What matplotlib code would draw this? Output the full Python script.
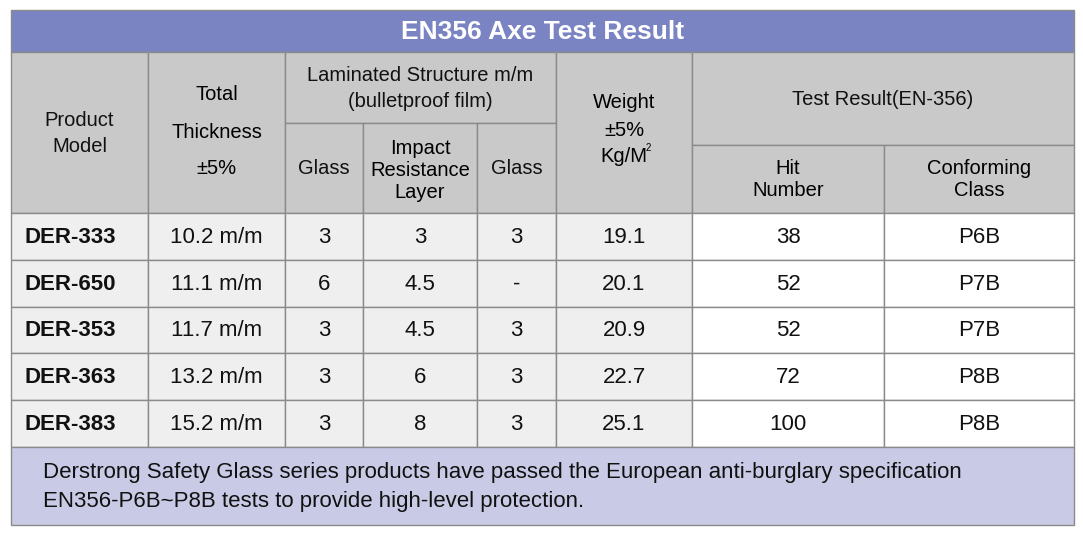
import matplotlib.pyplot as plt
from matplotlib.patches import Rectangle

plt.rcParams['font.family'] = ['Liberation Sans', 'DejaVu Sans']

title = 'EN356 Axe Test Result'
models = ['DER-333', 'DER-650', 'DER-353', 'DER-363', 'DER-383']
thickness = ['10.2 m/m', '11.1 m/m', '11.7 m/m', '13.2 m/m', '15.2 m/m']
glass1 = ['3', '6', '3', '3', '3']
impact = ['3', '4.5', '4.5', '6', '8']
glass2 = ['3', '-', '3', '3', '3']
weight = ['19.1', '20.1', '20.9', '22.7', '25.1']
hits = ['38', '52', '52', '72', '100']
classes = ['P6B', 'P7B', 'P7B', 'P8B', 'P8B']
note = ('Derstrong Safety Glass series products have passed the European anti-burglary specification\n'
        'EN356-P6B~P8B tests to provide high-level protection.')

W, H = 1083, 533
fig = plt.figure(figsize=(W / 100, H / 100), dpi=100)
ax = fig.add_axes([0, 0, 1, 1])
ax.set_xlim(0, W)
ax.set_ylim(H, 0)
ax.axis('off')

xs = [11, 148, 285, 363, 477, 556, 692, 884, 1074]
y_title, y_head, y_sub1, y_sub2, y_body = 10, 52, 123, 145, 213
rh = 46.8
y_foot = y_body + 5 * rh
y_end = 525
line = '#8a8a8a'
head_bg = '#c9c9c9'
fs = 16


def cell(x0, y0, x1, y1, fc, txt='', size=fs, weight='normal', color='#111111', ls=1.0):
    ax.add_patch(Rectangle((x0, y0), x1 - x0, y1 - y0, facecolor=fc, edgecolor=line, lw=ls))
    if txt:
        ax.text((x0 + x1) / 2, (y0 + y1) / 2 + 1, txt, ha='center', va='center',
                fontsize=size, fontweight=weight, color=color, linespacing=1.45)


# title band
cell(xs[0], y_title, xs[-1], y_head, '#7b84c3', title, size=19, weight='bold', color='white')

# header
hs = 14.5
cell(xs[0], y_head, xs[1], y_body, head_bg, 'Product\nModel', size=hs)
ax.add_patch(Rectangle((xs[1], y_head), xs[2] - xs[1], y_body - y_head, facecolor=head_bg, edgecolor=line, lw=1))
for t, yy in zip(['Total', 'Thickness', '±5%'], [94, 132, 169]):
    ax.text((xs[1] + xs[2]) / 2, yy, t, ha='center', va='center', fontsize=hs)
cell(xs[2], y_head, xs[5], y_sub1, head_bg, 'Laminated Structure m/m\n(bulletproof film)', size=hs)
cell(xs[2], y_sub1, xs[3], y_body, head_bg, 'Glass', size=hs)
ax.add_patch(Rectangle((xs[3], y_sub1), xs[4] - xs[3], y_body - y_sub1, facecolor=head_bg, edgecolor=line, lw=1))
ax.text((xs[3] + xs[4]) / 2, 170, 'Impact\nResistance\nLayer', ha='center', va='center',
        fontsize=hs, linespacing=1.2)
cell(xs[4], y_sub1, xs[5], y_body, head_bg, 'Glass', size=hs)
ax.add_patch(Rectangle((xs[5], y_head), xs[6] - xs[5], y_body - y_head, facecolor=head_bg, edgecolor=line, lw=1))
for t, yy in zip(['Weight', '±5%', 'Kg/M'], [102, 131, 157]):
    ax.text((xs[5] + xs[6]) / 2, yy, t, ha='center', va='center', fontsize=hs)
ax.text(648, 148, '2', ha='center', va='center', fontsize=7)
cell(xs[6], y_head, xs[8], y_sub2, head_bg, 'Test Result(EN-356)', size=hs)
ax.add_patch(Rectangle((xs[6], y_sub2), xs[7] - xs[6], y_body - y_sub2, facecolor=head_bg, edgecolor=line, lw=1))
ax.text((xs[6] + xs[7]) / 2, 180, 'Hit\nNumber', ha='center', va='center', fontsize=hs, linespacing=1.2)
ax.add_patch(Rectangle((xs[7], y_sub2), xs[8] - xs[7], y_body - y_sub2, facecolor=head_bg, edgecolor=line, lw=1))
ax.text((xs[7] + xs[8]) / 2, 180, 'Conforming\nClass', ha='center', va='center', fontsize=hs, linespacing=1.2)

# body
cols = [models, thickness, glass1, impact, glass2, weight, hits, classes]
for r in range(len(models)):
    y0 = y_body + r * rh
    for c, vals in enumerate(cols):
        fc = '#efefef' if c < 6 else 'white'
        if c == 0:
            ax.add_patch(Rectangle((xs[0], y0), xs[1] - xs[0], rh, facecolor=fc, edgecolor=line, lw=1))
            ax.text(xs[0] + 14, y0 + rh / 2 + 1, vals[r], ha='left', va='center',
                    fontsize=fs, fontweight='bold', color='#111111')
        else:
            cell(xs[c], y0, xs[c + 1], y0 + rh, fc, vals[r], size=fs)

# footer
ax.add_patch(Rectangle((xs[0], y_foot), xs[-1] - xs[0], y_end - y_foot, facecolor='#c9cbe6', edgecolor=line, lw=1))
ax.text(43, (y_foot + y_end) / 2 + 1, note, ha='left', va='center', fontsize=16, color='#111111', linespacing=1.45)

fig.savefig('out.png', dpi=100)
